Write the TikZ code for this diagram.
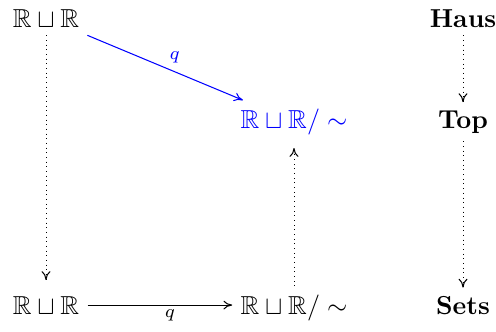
\documentclass[tikz,border=0pt]{standalone}
\usepackage{amssymb}
\usetikzlibrary{arrows.meta}
\begin{document}
\begin{tikzpicture}[x=0.3846pt,y=-0.3846pt,
  obj/.style={inner sep=3pt, anchor=base},
  tip/.style={-{Computer Modern Rightarrow[length=3.4pt,width=3.4pt,line width=0.4pt]}},
  dots/.style={line width=0.3pt, dash pattern=on 0.3pt off 1.5pt},
  lab/.style={inner sep=1.5pt}]
\useasboundingbox (0,0) rectangle (496,331);
\node[obj] (A) at (46,27) {$\mathbb{R}\sqcup\mathbb{R}$};
\node[obj, text=blue] (B) at (294,128) {$\mathbb{R}\sqcup\mathbb{R}/\sim$};
\node[obj] (C) at (46,314) {$\mathbb{R}\sqcup\mathbb{R}$};
\node[obj] (D) at (294,314) {$\mathbb{R}\sqcup\mathbb{R}/\sim$};
\node[obj] (H) at (463,27) {\textbf{Haus}};
\node[obj] (T) at (463,128) {\textbf{Top}};
\node[obj] (S) at (463,314) {\textbf{Sets}};
\draw[blue, tip] (A) -- node[pos=0.5, anchor=south west, lab, text=blue] {$\scriptstyle q$} (B);
\draw[tip] (C.east) -- node[pos=0.57, below, lab] {$\scriptstyle q$} (C.east -| D.west);
\draw[dots, tip, shorten >=3pt] (A) -- (C);
\draw[dots, tip, shorten >=2pt] (D) -- (B);
\draw[dots, tip] (H) -- (T);
\draw[dots, tip] (T) -- (S);
\end{tikzpicture}
\end{document}
